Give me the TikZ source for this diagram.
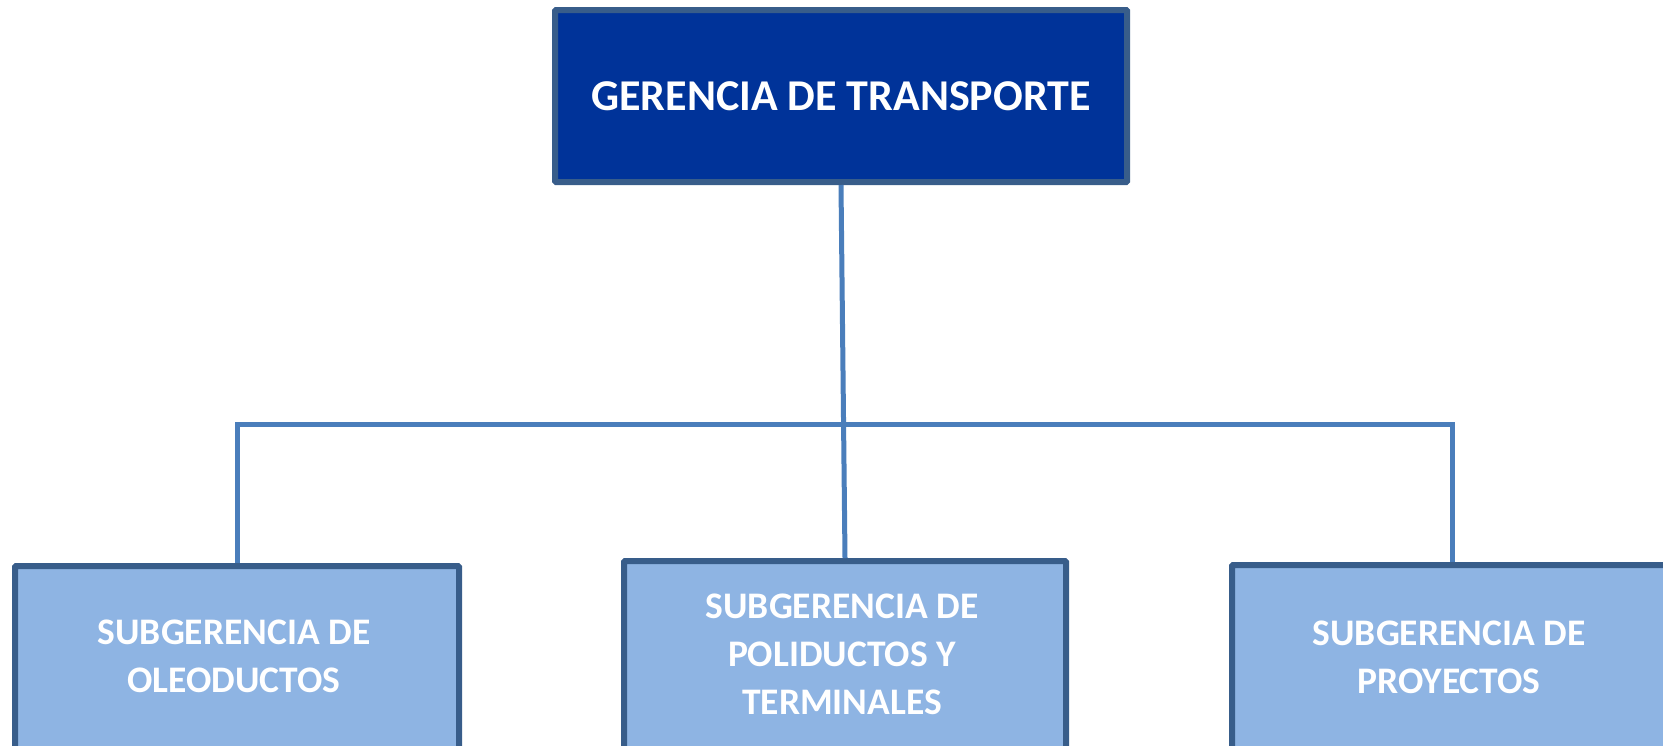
\documentclass[tikz,border=0pt]{standalone}
\usepackage{fontspec}
\setmainfont{Carlito}
\definecolor{topfill}{RGB}{0,51,153}
\definecolor{subfill}{RGB}{142,180,227}
\definecolor{boxline}{RGB}{56,93,138}
\definecolor{conn}{RGB}{74,126,187}
\begin{document}
\begin{tikzpicture}[x=1pt,y=-1pt,
  topbox/.style={draw=boxline, line width=6pt, fill=topfill, rounded corners=1pt,
    text=white, font=\bfseries\fontsize{44}{52}\selectfont, align=center,
    inner sep=0pt, anchor=north west},
  subbox/.style={draw=boxline, line width=6pt, fill=subfill, rounded corners=1pt,
    inner sep=0pt, anchor=north west},
  subtext/.style={text=white, font=\bfseries\fontsize{37.5}{48}\selectfont, align=center, inner sep=0pt},
  link/.style={draw=conn, line width=5pt}]
\useasboundingbox (0,0) rectangle (1663,745);
\clip (0,0) rectangle (1663,745);
\node[topbox, minimum width=572pt, minimum height=172pt] (top) at (552,7) {GERENCIA DE TRANSPORTE};
\node[subbox, minimum width=444pt, minimum height=200pt] (left) at (12,563) {};
\node[subbox, minimum width=442pt, minimum height=200pt] (mid) at (621,558) {};
\node[subbox, minimum width=441pt, minimum height=200pt] (right) at (1229,562) {};
\node[subtext] (lefttext) at (234,656) {SUBGERENCIA DE\\OLEODUCTOS};
\node[subtext] (midtext) at (842,654) {SUBGERENCIA DE\\POLIDUCTOS Y\\TERMINALES};
\node[subtext] (righttext) at (1449,657) {SUBGERENCIA DE\\PROYECTOS};
\coordinate (bar) at (0,424);
\draw[link] (top.south) -- (mid.north);
\draw[link] (left.north) -- (left.north |- bar) -- (right.north |- bar) -- (right.north);
\end{tikzpicture}
\end{document}
